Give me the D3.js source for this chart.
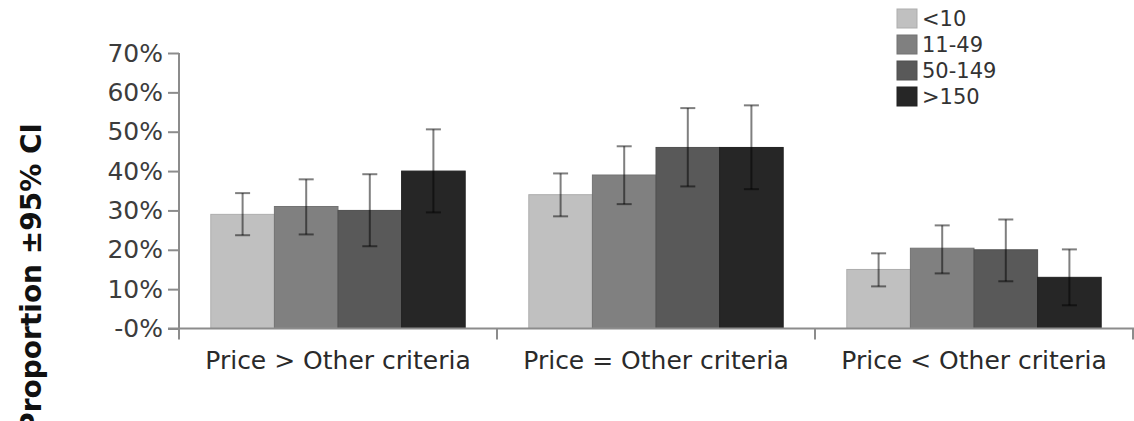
<!DOCTYPE html>
<html>
<head>
<meta charset="utf-8">
<script src="https://cdn.jsdelivr.net/npm/d3@7"></script>
<style>
    body { margin: 0; background: #fff; }
    svg { display: block; }
</style>
</head>
<body>
<div id="chart"></div>
<script>
var categories = ["Price > Other criteria", "Price = Other criteria", "Price < Other criteria"];
var sizeGroups = ["<10", "11-49", "50-149", ">150"];
var colorGroups = ["#c0c0c0", "#808080", "#595959", "#262626"];
var tickValues = [0, 10, 20, 30, 40, 50, 60, 70];
var tickLabels = ["-0%", "10%", "20%", "30%", "40%", "50%", "60%", "70%"];

// proportion (%) per size group, one value per category
var proportions = [
    [29, 34, 15],
    [31, 39, 20.4],
    [30, 46, 20],
    [40, 46, 13]
];
var lowerCI = [
    [23.7, 28.5, 10.7],
    [23.9, 31.6, 14],
    [20.9, 36.1, 12],
    [29.5, 35.4, 5.9]
];
var upperCI = [
    [34.4, 39.4, 19.1],
    [37.9, 46.3, 26.2],
    [39.2, 56, 27.7],
    [50.6, 56.7, 20.1]
];

var width = 1134;
var height = 421;

var svg = d3.select("#chart")
    .append("svg")
    .attr("width", width)
    .attr("height", height);

var x = d3.scaleBand()
    .domain(categories)
    .range([179, 1133])
    .padding(0);

var xInner = d3.scaleBand()
    .domain(sizeGroups)
    .range([x.bandwidth() * 0.1, x.bandwidth() * 0.9])
    .padding(0);

var y = d3.scaleLinear()
    .domain([0, 70])
    .range([328.5, 53]);

var rows = [];
for (var i = 0; i < sizeGroups.length; i++) {
    for (var j = 0; j < categories.length; j++) {
        rows.push({
            group: sizeGroups[i],
            color: colorGroups[i],
            category: categories[j],
            value: proportions[i][j],
            low: lowerCI[i][j],
            high: upperCI[i][j]
        });
    }
}

// bars
svg.append("g")
    .selectAll("rect")
    .data(rows)
    .enter().append("rect")
    .attr("x", function (d) {
        return x(d.category) + xInner(d.group);
    })
    .attr("y", function (d) {
        return y(d.value);
    })
    .attr("width", xInner.bandwidth())
    .attr("height", function (d) {
        return y(0) - y(d.value);
    })
    .attr("fill", function (d) {
        return d.color;
    })
    .attr("stroke", function (d) {
        return d3.color(d.color).darker(0.3);
    })
    .attr("stroke-width", 1);

// y axis
var yAxis = d3.axisLeft(y)
    .tickValues(tickValues)
    .tickFormat(function (d, i) {
        return tickLabels[i];
    })
    .tickSize(11)
    .tickPadding(5);

var yAxisG = svg.append("g")
    .attr("transform", "translate(179,0)")
    .call(yAxis);

yAxisG.select(".domain").remove();
yAxisG.append("line")
    .attr("x1", 0).attr("x2", 0)
    .attr("y1", y(70)).attr("y2", y(0) + 10)
    .attr("stroke", "#8c8c8c")
    .attr("stroke-width", 2);
yAxisG.selectAll(".tick line")
    .attr("stroke", "#8c8c8c")
    .attr("stroke-width", 2);
yAxisG.selectAll(".tick text")
    .attr("fill", "#3c3c3c")
    .style("font-family", "'DejaVu Sans', Verdana, sans-serif")
    .style("font-size", "25px");

// x axis
var xAxis = d3.axisBottom(x)
    .tickSize(0)
    .tickPadding(0);

var xAxisG = svg.append("g")
    .attr("transform", "translate(0," + y(0) + ")")
    .call(xAxis);

xAxisG.select(".domain").remove();
xAxisG.append("line")
    .attr("x1", 168).attr("x2", width)
    .attr("y1", 0).attr("y2", 0)
    .attr("stroke", "#8c8c8c")
    .attr("stroke-width", 2);
xAxisG.selectAll(".sep")
    .data(categories.concat(["end"]))
    .enter().append("line")
    .attr("class", "sep")
    .attr("x1", function (d, i) {
        return i < categories.length ? x(d) : x.range()[1];
    })
    .attr("x2", function (d, i) {
        return i < categories.length ? x(d) : x.range()[1];
    })
    .attr("y1", 0)
    .attr("y2", 11)
    .attr("stroke", "#8c8c8c")
    .attr("stroke-width", 2);
xAxisG.selectAll(".tick text")
    .attr("y", 40)
    .attr("dy", 0)
    .attr("fill", "#2a2a2a")
    .style("font-family", "'DejaVu Sans', Verdana, sans-serif")
    .style("font-size", "25px");

// error bars
var err = svg.append("g")
    .selectAll("g")
    .data(rows)
    .enter().append("g")
    .attr("stroke", "rgba(0,0,0,0.5)")
    .attr("stroke-width", 2)
    .attr("transform", function (d) {
        return "translate(" + (x(d.category) + xInner(d.group) + xInner.bandwidth() / 2) + ",0)";
    });

err.append("line")
    .attr("x1", 0).attr("x2", 0)
    .attr("y1", function (d) {
        return y(d.high);
    })
    .attr("y2", function (d) {
        return y(d.low);
    });
err.append("line")
    .attr("x1", -7.5).attr("x2", 7.5)
    .attr("y1", function (d) {
        return y(d.high);
    })
    .attr("y2", function (d) {
        return y(d.high);
    });
err.append("line")
    .attr("x1", -7.5).attr("x2", 7.5)
    .attr("y1", function (d) {
        return y(d.low);
    })
    .attr("y2", function (d) {
        return y(d.low);
    });

// y title
svg.append("text")
    .attr("transform", "translate(41,123) rotate(-90)")
    .attr("text-anchor", "end")
    .attr("fill", "#111")
    .style("font-family", "'DejaVu Sans', Verdana, sans-serif")
    .style("font-weight", "bold")
    .style("font-size", "28px")
    .text("Proportion \u00b195% CI");

// legend
var legend = svg.append("g")
    .attr("transform", "translate(897,9)")
    .selectAll("g")
    .data(sizeGroups)
    .enter().append("g")
    .attr("transform", function (d, i) {
        return "translate(0," + (i * 26) + ")";
    });

legend.append("rect")
    .attr("width", 20)
    .attr("height", 19)
    .attr("fill", function (d, i) {
        return colorGroups[i];
    })
    .attr("stroke", function (d, i) {
        return d3.color(colorGroups[i]).darker(0.3);
    });

legend.append("text")
    .attr("x", 25)
    .attr("y", 17)
    .attr("fill", "#333")
    .style("font-family", "'DejaVu Sans', Verdana, sans-serif")
    .style("font-size", "21px")
    .text(function (d) {
        return d;
    });
</script>
</body>
</html>
